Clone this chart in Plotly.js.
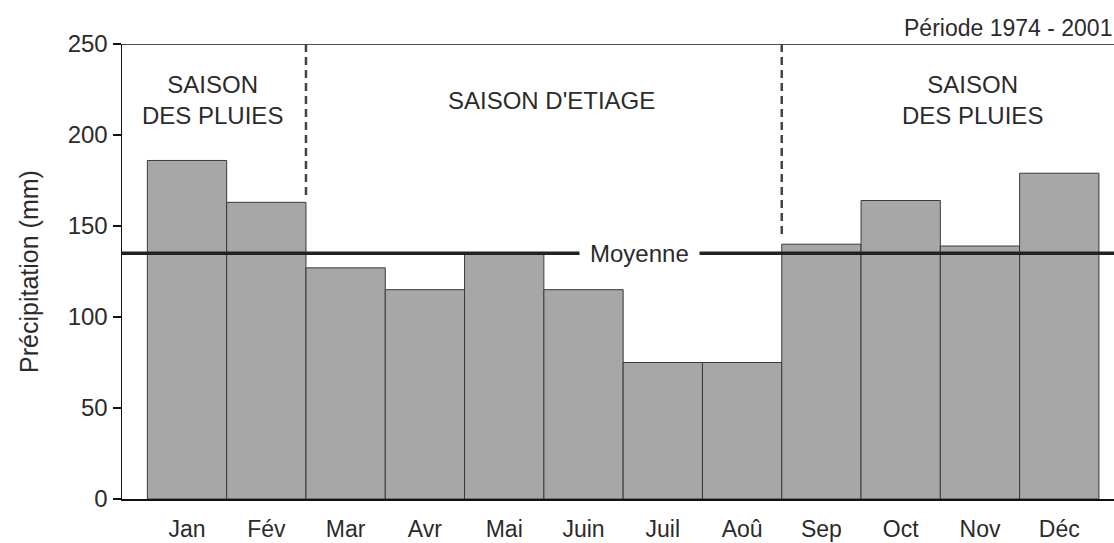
<!DOCTYPE html>
<html>
<head>
<meta charset="utf-8">
<script src="https://cdn.plot.ly/plotly-3.0.1.min.js"></script>
<style>html,body{margin:0;padding:0;background:#fff;}#chart{width:1114px;height:543px;}</style>
</head>
<body>
<div id="chart"></div>
<script>
// Data
const months = ["Jan", "Fév", "Mar", "Avr", "Mai", "Juin", "Juil", "Aoû", "Sep", "Oct", "Nov", "Déc"];
const precipitation = [186, 163, 127, 115, 135, 115, 75, 75, 140, 164, 139, 179];
const meanValue = 135;
const seasonLabels = ["SAISON<br>DES PLUIES", "SAISON D'ETIAGE", "SAISON<br>DES PLUIES"];
const seasonBounds = [1.5, 7.5];
const periodText = "Période 1974 - 2001";
const yTicks = [0, 50, 100, 150, 200, 250];

const FONT = "Liberation Sans, Arial, sans-serif";
const TXT = "#2b2b2b";

const trace = {
  type: "bar",
  x: months,
  y: precipitation,
  marker: { color: "#a7a7a7", line: { color: "#3a3a3a", width: 1 } },
  hoverinfo: "x+y"
};

const shapes = [
  { type: "line", xref: "paper", yref: "y", x0: 0, x1: 1, y0: 250, y1: 250, line: { color: "#111", width: 1.5 } },
  { type: "line", xref: "paper", yref: "y", x0: 0, x1: 1, y0: meanValue, y1: meanValue, line: { color: "#222", width: 3.5 } },
  { type: "line", xref: "x", yref: "y", x0: seasonBounds[0], x1: seasonBounds[0], y0: 250, y1: 165, line: { color: "#444", width: 2.5, dash: "8px,5px" } },
  { type: "line", xref: "x", yref: "y", x0: seasonBounds[1], x1: seasonBounds[1], y0: 250, y1: 143, line: { color: "#444", width: 2.5, dash: "8px,5px" } }
];

const annotations = [
  { x: 0.32, y: 219, xref: "x", yref: "y", text: seasonLabels[0], showarrow: false, font: { family: FONT, size: 24, color: TXT } },
  { x: 4.6, y: 219, xref: "x", yref: "y", text: seasonLabels[1], showarrow: false, font: { family: FONT, size: 24, color: TXT } },
  { x: 9.9, y: 219, xref: "x", yref: "y", text: seasonLabels[2], showarrow: false, font: { family: FONT, size: 24, color: TXT } },
  { x: 5.7, y: meanValue, xref: "x", yref: "y", text: "Moyenne", showarrow: false, bgcolor: "#fff", borderpad: 10, font: { family: FONT, size: 24, color: TXT } },
  { x: 1, y: 1, xref: "paper", yref: "paper", xanchor: "right", yanchor: "bottom", yshift: 1, text: periodText, showarrow: false, font: { family: FONT, size: 23, color: TXT } }
];

const layout = {
  width: 1114,
  height: 543,
  margin: { l: 122, r: 0, t: 44, b: 44 },
  paper_bgcolor: "#fff",
  plot_bgcolor: "#fff",
  bargap: 0,
  showlegend: false,
  font: { family: FONT, size: 24, color: TXT },
  xaxis: {
    type: "category",
    range: [-0.82, 11.69],
    showgrid: false,
    zeroline: false,
    showline: true,
    linecolor: "#111",
    linewidth: 1.5,
    ticks: "",
    ticklabelstandoff: 9,
    tickfont: { family: FONT, size: 23, color: TXT }
  },
  yaxis: {
    range: [0, 250],
    tickvals: yTicks,
    showgrid: false,
    zeroline: false,
    showline: true,
    linecolor: "#111",
    linewidth: 1.5,
    ticks: "outside",
    ticklen: 8,
    tickwidth: 1.5,
    tickcolor: "#111",
    tickfont: { family: FONT, size: 24, color: TXT },
    title: { text: "Précipitation (mm)", standoff: 22, font: { family: FONT, size: 25, color: TXT } }
  },
  shapes: shapes,
  annotations: annotations
};

Plotly.newPlot("chart", [trace], layout, { displayModeBar: false, staticPlot: true });
</script>
</body>
</html>
